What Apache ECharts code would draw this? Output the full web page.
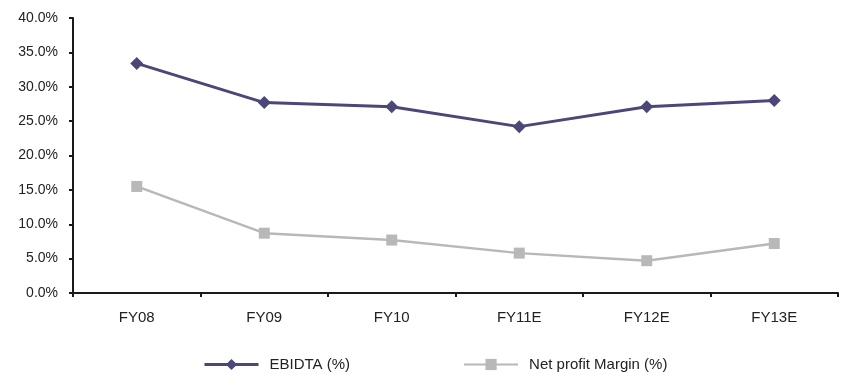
<!DOCTYPE html>
<html>
<head>
<meta charset="utf-8">
<script src="https://cdn.jsdelivr.net/npm/echarts@6/dist/echarts.min.js"></script>
<style>
html,body{margin:0;padding:0;background:#fff;}
#chart{width:842px;height:374px;}
</style>
</head>
<body>
<div id="chart"></div>
<script>
// Margins by fiscal year (percent)
const categories = ['FY08', 'FY09', 'FY10', 'FY11E', 'FY12E', 'FY13E'];
const ebidta = [33.4, 27.7, 27.1, 24.2, 27.1, 28.0];
const netProfitMargin = [15.5, 8.7, 7.7, 5.8, 4.7, 7.2];
const seriesNames = ['EBIDTA (%)', 'Net profit Margin (%)'];

const font = '"Liberation Sans", Arial, sans-serif';
const chart = echarts.init(document.getElementById('chart'));
chart.setOption({
  animation: false,
  textStyle: { fontFamily: font },
  grid: { left: 73, right: 4, top: 18, bottom: 81 },
  legend: {
    top: 352,
    left: 198,
    itemGap: 113,
    itemWidth: 54,
    itemHeight: 14,
    textStyle: { fontFamily: font, fontSize: 15, color: '#222', padding: [0, 0, 0, 6] },
    data: [
      { name: seriesNames[0], lineStyle: { width: 3 } },
      { name: seriesNames[1], lineStyle: { width: 2 } }
    ]
  },
  xAxis: {
    type: 'category',
    data: categories,
    boundaryGap: true,
    axisLine: { lineStyle: { color: '#1a1a1a', width: 2 } },
    axisTick: { show: true, length: 4, lineStyle: { color: '#1a1a1a', width: 2 } },
    axisLabel: { color: '#222', fontSize: 15, margin: 17, fontFamily: font }
  },
  yAxis: {
    type: 'value',
    min: 0,
    max: 40,
    interval: 5,
    axisLine: { show: true, lineStyle: { color: '#1a1a1a', width: 2 } },
    axisTick: { show: true, length: 4, lineStyle: { color: '#1a1a1a', width: 2 } },
    splitLine: { show: false },
    axisLabel: {
      color: '#222', fontSize: 14, margin: 15, fontFamily: font,
      formatter: v => v.toFixed(1) + '%'
    }
  },
  series: [
    {
      name: seriesNames[0],
      type: 'line',
      data: ebidta,
      symbol: 'diamond',
      symbolSize: 13,
      lineStyle: { color: '#4b4778', width: 3 },
      itemStyle: { color: '#4b4778' }
    },
    {
      name: seriesNames[1],
      type: 'line',
      data: netProfitMargin,
      symbol: 'rect',
      symbolSize: 11,
      lineStyle: { color: '#b8b8b8', width: 2.5 },
      itemStyle: { color: '#b8b8b8' }
    }
  ]
});
</script>
</body>
</html>
